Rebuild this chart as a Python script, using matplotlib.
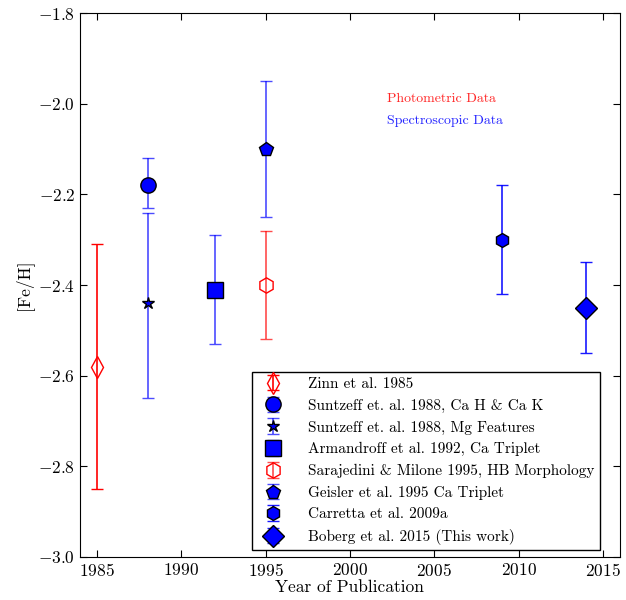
import matplotlib
matplotlib.use('Agg')
import matplotlib.pyplot as plt

plt.rcParams['font.family'] = 'serif'
plt.rcParams['font.serif'] = ['cmr10', 'DejaVu Serif']
plt.rcParams['mathtext.fontset'] = 'cm'
plt.rcParams['axes.formatter.use_mathtext'] = True

# data
labels = ['Zinn et al. 1985',
          'Suntzeff et. al. 1988, Ca H & Ca K',
          'Suntzeff et. al. 1988, Mg Features',
          'Armandroff et al. 1992, Ca Triplet',
          'Sarajedini & Milone 1995, HB Morphology',
          'Geisler et al. 1995 Ca Triplet',
          'Carretta et al. 2009a',
          'Boberg et al. 2015 (This work)']
years   = [1985, 1988, 1988, 1992, 1995, 1995, 2009, 2014]
feh     = [-2.58, -2.18, -2.44, -2.41, -2.40, -2.10, -2.30, -2.45]
err_lo  = [0.27, 0.05, 0.21, 0.12, 0.12, 0.15, 0.12, 0.10]
err_hi  = [0.27, 0.06, 0.20, 0.12, 0.12, 0.15, 0.12, 0.10]
kind    = ['phot', 'spec', 'spec', 'spec', 'phot', 'spec', 'spec', 'spec']
bar_alpha = [1.0, 0.7, 0.7, 0.7, 0.7, 0.7, 0.9, 0.9]

markers = ['d', 'o', '*', 's', 'h', 'p', 'h', 'D']
msizes  = [11, 11, 9, 11, 11, 10, 10, 11]

fig = plt.figure(figsize=(6.26, 6.0), dpi=100)
ax = fig.add_axes([0.128, 0.072, 0.862, 0.906])

for i in range(len(years)):
    if kind[i] == 'phot':
        ecol, fc, mec = 'red', 'none', 'red'
    else:
        ecol, fc, mec = 'blue', 'blue', 'black'
    line, caps, bars = ax.errorbar(
        years[i], feh[i], yerr=[[err_lo[i]], [err_hi[i]]],
        fmt=markers[i], color=ecol, ecolor=ecol, mfc=fc, mec=mec,
        ms=msizes[i], mew=1.0, elinewidth=1.2, capsize=4,
        capthick=1.2, label=labels[i])
    for c in caps:
        c.set_alpha(bar_alpha[i])
    for b in bars:
        b.set_alpha(bar_alpha[i])

ax.text(2002.2, -1.995, 'Photometric Data', color='red', fontsize=10, alpha=0.85)
ax.text(2002.2, -2.045, 'Spectroscopic Data', color='blue', fontsize=10, alpha=0.85)

ax.set_xlim(1984, 2016)
ax.set_ylim(-3.0, -1.8)
ax.set_xticks(range(1985, 2016, 5))
ax.set_yticks([-3.0, -2.8, -2.6, -2.4, -2.2, -2.0, -1.8])
ax.tick_params(direction='in', top=True, right=True, labelsize=12.5, length=5)
ax.set_xlabel('Year of Publication', fontsize=12.5, labelpad=1)
ax.set_ylabel('[Fe/H]', fontsize=12.5)

leg = ax.legend(loc='lower right', bbox_to_anchor=(0.963, 0.012),
                fontsize=11, numpoints=1,
                fancybox=False, edgecolor='black', framealpha=1,
                borderaxespad=0.0, labelspacing=0.5, handletextpad=1.3,
                borderpad=0.35)
leg.get_frame().set_linewidth(1.0)

plt.savefig('out.png', dpi=100)
